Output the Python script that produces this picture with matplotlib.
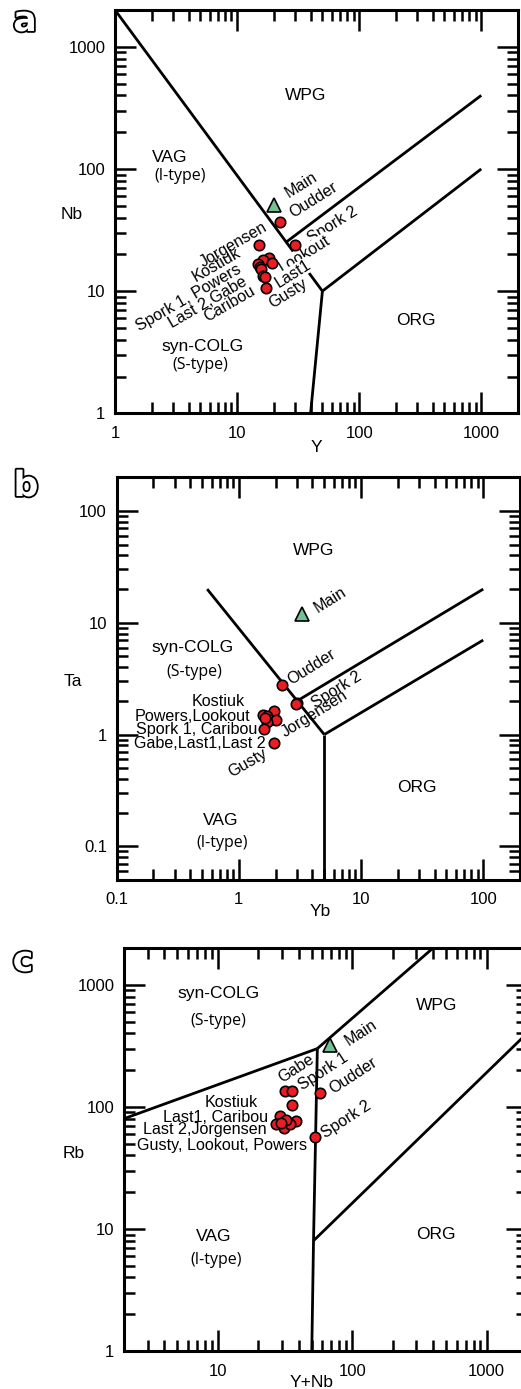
import matplotlib

matplotlib.use("Agg")
import matplotlib.pyplot as plt
import matplotlib.patheffects as pe
from matplotlib.ticker import FixedLocator, LogLocator, NullFormatter

# ---- data ----
# panel a: Nb vs Y
A_NAMES = ["Oudder", "Spork 2", "Jorgensen", "Kostiuk", "Powers", "Spork 1",
           "Lookout", "Last 2", "Gabe", "Caribou", "Last1", "Gusty"]
A_Y = [22.4, 29.7, 15.2, 18.3, 16.4, 14.9, 19.2, 15.4, 15.8, 16.2, 16.8, 17.2]
A_NB = [37.1, 23.8, 23.8, 18.5, 17.9, 16.8, 17.0, 15.7, 15.2, 13.4, 13.0, 10.6]
A_MAIN = (20.0, 50.8)

# panel b: Ta vs Yb
B_NAMES = ["Oudder", "Spork 2", "Jorgensen", "Kostiuk", "Powers", "Lookout",
           "Spork 1", "Caribou", "Gabe", "Last1", "Last 2", "Gusty"]
B_YB = [2.24, 2.97, 2.95, 1.94, 1.57, 1.69, 1.80, 2.01, 1.71, 1.61, 1.65, 1.94]
B_TA = [2.77, 1.90, 1.88, 1.63, 1.49, 1.46, 1.36, 1.35, 1.30, 1.13, 1.40, 0.84]
B_MAIN = (3.28, 12.0)

# panel c: Rb vs Y+Nb
C_NAMES = ["Gabe", "Spork 1", "Oudder", "Kostiuk", "Last1", "Caribou",
           "Last 2", "Jorgensen", "Gusty", "Lookout", "Powers", "Spork 2"]
C_YNB = [31.4, 35.8, 57.1, 35.8, 29.2, 38.4, 27.2, 30.8, 34.2, 32.0, 29.5, 52.5]
C_RB = [135, 135, 131, 102.6, 84.9, 75.9, 72.6, 67.7, 72.6, 78.0, 74.0, 57.1]
C_MAIN = (67.9, 318)

# Pearce et al. (1984) field boundaries
A_BOUNDS = [([1, 50], [2000, 10]), ([40, 50], [1, 10]),
            ([50, 1000], [10, 100]), ([25, 1000], [25, 400])]
B_BOUNDS = [([0.55, 5], [20, 1]), ([5, 5], [1, 0.05]),
            ([3, 100], [2, 20]), ([5, 100], [1, 7])]
C_BOUNDS = [([2, 55], [80, 300]), ([55, 400], [300, 2000]),
            ([55, 51.5, 50], [300, 8, 1]), ([51.5, 2000], [8, 400])]

# sample labels: (text, x, y, rotation)
A_LABELS = [("Main", 33.7, 74.3, 32), ("Oudder", 42, 55.8, 32),
            ("Spork 2", 60.8, 34.8, 32), ("Lookout", 35.9, 20.3, 32),
            ("Last1", 28.8, 13.9, 32), ("Gusty", 26.2, 9.5, 32),
            ("Jorgensen", 9.3, 23.8, 30), ("Kostiuk", 6.8, 16.3, 30),
            ("Spork 1, Powers", 4.0, 8.8, 30), ("Last 2,Gabe", 5.8, 8.1, 30),
            ("Caribou", 8.7, 7.8, 30)]
B_LABELS = [("Main", 5.57, 16, 32), ("Oudder", 3.94, 3.99, 32),
            ("Spork 2", 6.3, 2.49, 32), ("Jorgensen", 4.2, 1.55, 32),
            ("Gusty", 1.19, 0.559, 30), ("Kostiuk", 0.671, 1.96, 0),
            ("Powers,Lookout", 0.416, 1.46, 0),
            ("Spork 1, Caribou", 0.452, 1.11, 0),
            ("Gabe,Last1,Last 2", 0.481, 0.83, 0)]
C_LABELS = [("Main", 117, 406, 33), ("Oudder", 102, 181, 33),
            ("Spork 1", 60.6, 195, 33), ("Gabe", 38.4, 205, 33),
            ("Spork 2", 90.3, 78.2, 33), ("Kostiuk", 12.6, 108, 0),
            ("Last1, Caribou", 9.57, 82.4, 0),
            ("Last 2,Jorgensen", 7.93, 64.8, 0),
            ("Gusty, Lookout, Powers", 10.8, 47.9, 0)]

# field names: (text, x, y, humanist font)
A_FIELDS = [("WPG", 36.4, 399, False), ("VAG", 2.82, 125, False),
            ("(I-type)", 3.4, 88, True), ("syn-COLG", 5.18, 3.55, False),
            ("(S-type)", 5.03, 2.47, True), ("ORG", 289, 5.7, False)]
B_FIELDS = [("WPG", 4.06, 44.2, False), ("syn-COLG", 0.416, 5.97, False),
            ("(S-type)", 0.431, 3.64, True), ("VAG", 0.71, 0.171, False),
            ("(I-type)", 0.736, 0.107, True), ("ORG", 28.8, 0.336, False)]
C_FIELDS = [("WPG", 428, 673, False), ("syn-COLG", 10.1, 843, False),
            ("(S-type)", 10.1, 507, True), ("VAG", 9.24, 8.65, False),
            ("(I-type)", 9.73, 5.57, True), ("ORG", 423, 8.93, False)]

RED = "#ec1c24"
GREEN = "#72c094"
SANS = ["Liberation Sans", "DejaVu Sans"]
HUMAN = ["Open Sans", "DejaVu Sans"]


def style_axes(ax, xlim, ylim, xmaj, ymaj):
    ax.set_xscale("log")
    ax.set_yscale("log")
    ax.set_xlim(*xlim)
    ax.set_ylim(*ylim)
    for s in ax.spines.values():
        s.set_linewidth(2.2)
    ax.xaxis.set_major_locator(FixedLocator(xmaj))
    ax.yaxis.set_major_locator(FixedLocator(ymaj))
    ax.set_xticklabels([f"{v:g}" for v in xmaj], fontfamily=SANS, fontsize=12)
    ax.set_yticklabels([f"{v:g}" for v in ymaj], fontfamily=SANS, fontsize=12)
    ax.xaxis.set_minor_locator(LogLocator(base=10, subs=range(2, 10),
                                          numticks=20))
    ax.yaxis.set_minor_locator(LogLocator(base=10, subs=range(2, 10),
                                          numticks=20))
    ax.xaxis.set_minor_formatter(NullFormatter())
    ax.yaxis.set_minor_formatter(NullFormatter())
    ax.tick_params(which="both", direction="in", top=True, right=True,
                   width=1.8, color="black")
    ax.tick_params(which="major", length=15)
    ax.tick_params(which="minor", length=8)
    ax.tick_params(axis="x", which="major", pad=9)
    ax.tick_params(axis="y", which="major", pad=7)


def draw_panel(ax, bounds, xs, ys, main, labels, fields, letter,
               xlab, ylab, xlab_pos, ylab_pos):
    for bx, by in bounds:
        ax.plot(bx, by, color="black", lw=2.0, solid_capstyle="butt",
                zorder=2)
    for f, fx, fy, hum in fields:
        ax.text(fx, fy, f, ha="center", va="center",
                fontfamily=HUMAN if hum else SANS,
                fontsize=11.5 if hum else 12.5, zorder=3)
    for t, lx, ly, rot in labels:
        kw = {}
        if t in ("Lookout", "Last1") and letter == "a":
            kw["bbox"] = dict(fc="white", ec="none", pad=0.3)
        ax.text(lx, ly, t, ha="center", va="center", rotation=rot,
                rotation_mode="anchor", fontfamily=SANS, fontsize=11.6,
                zorder=3, **kw)
    ax.plot(xs, ys, "o", ms=7.5, mfc=RED, mec="black", mew=1.2, zorder=5,
            ls="none")
    ax.plot([main[0]], [main[1]], "^", ms=9.5, mfc=GREEN, mec="black",
            mew=1.2, zorder=5, ls="none")
    ax.text(xlab_pos[0], xlab_pos[1], xlab, transform=ax.transAxes,
            ha="center", va="center", fontfamily=SANS, fontsize=12.5)
    ax.text(ylab_pos[0], ylab_pos[1], ylab, transform=ax.transAxes,
            ha="center", va="center", fontfamily=SANS, fontsize=12.5)


def main():
    W, H = 521, 1389
    fig = plt.figure(figsize=(W / 100, H / 100), dpi=100)
    fig.patch.set_facecolor("white")

    axA = fig.add_axes([115 / W, 1 - 413.3 / H, 403 / W, 403.3 / H])
    axB = fig.add_axes([116.7 / W, 1 - 880 / H, 403.3 / W, 402.7 / H])
    axC = fig.add_axes([124 / W, 1 - 1351 / H, 403 / W, 403 / H])

    style_axes(axA, (1, 2000), (1, 2000), [1, 10, 100, 1000],
               [1, 10, 100, 1000])
    style_axes(axB, (0.1, 200), (0.05, 200), [0.1, 1, 10, 100],
               [0.1, 1, 10, 100])
    style_axes(axC, (2, 2000), (1, 2000), [10, 100, 1000],
               [1, 10, 100, 1000])

    draw_panel(axA, A_BOUNDS, A_Y, A_NB, A_MAIN, A_LABELS, A_FIELDS, "a",
               "Y", "Nb", (0.501, -0.086), (-0.107, 0.492))
    draw_panel(axB, B_BOUNDS, B_YB, B_TA, B_MAIN, B_LABELS, B_FIELDS, "b",
               "Yb", "Ta", (0.504, -0.079), (-0.108, 0.492))
    draw_panel(axC, C_BOUNDS, C_YNB, C_RB, C_MAIN, C_LABELS, C_FIELDS, "c",
               "Y+Nb", "Rb", (0.466, -0.079), (-0.124, 0.49))

    # outlined panel letters
    outline = [pe.withStroke(linewidth=2.6, foreground="black")]
    for letter, (px, py) in zip("abc", [(25, 21), (26, 486), (23, 961)]):
        fig.text(px / W, 1 - py / H, letter, ha="center", va="center",
                 fontsize=25, fontfamily=["DejaVu Sans"], fontweight="bold",
                 color="white", path_effects=outline)

    fig.savefig("out.png", dpi=100, facecolor="white")


if __name__ == "__main__":
    main()
